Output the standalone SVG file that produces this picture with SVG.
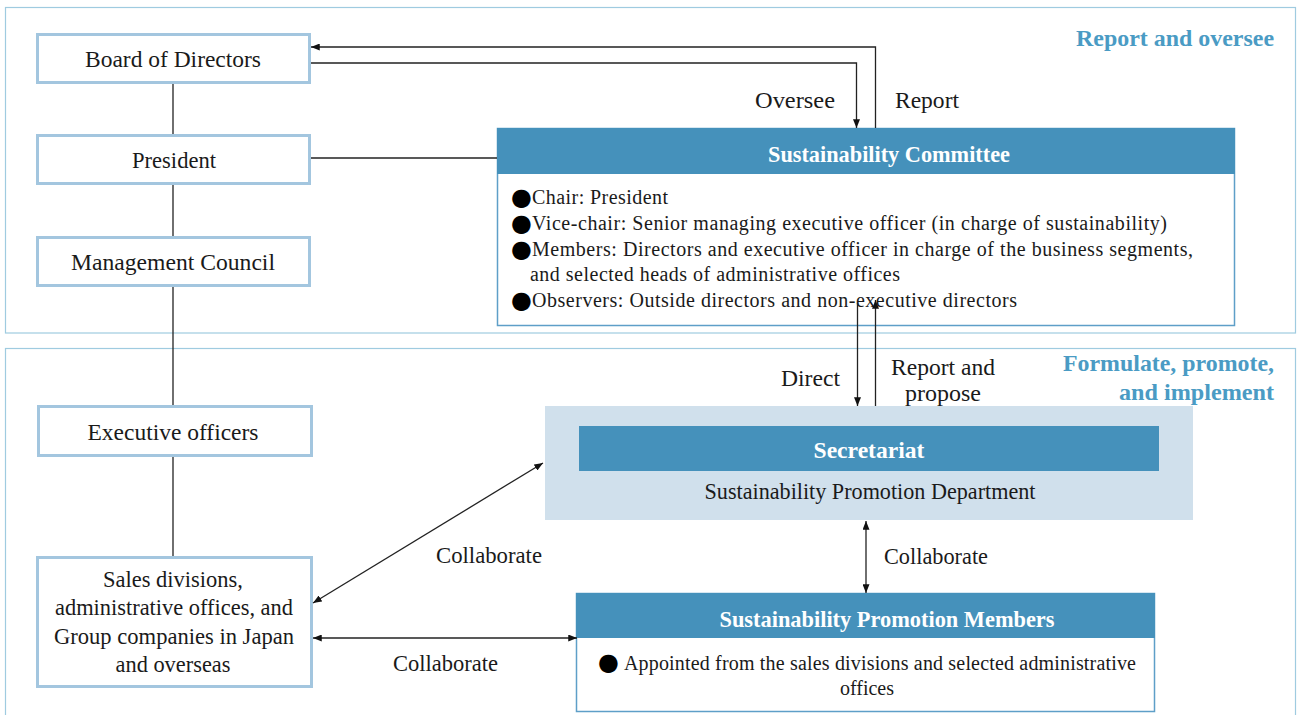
<svg xmlns="http://www.w3.org/2000/svg" width="1298" height="715" viewBox="0 0 1298 715">
<style>
  text { font-family: "Liberation Serif", "Times New Roman", serif; fill: #1a1a1a; }
  .lbl { font-size: 23.5px; text-anchor: middle; }
  .alb { font-size: 23.5px; }
  .lst { font-size: 20px; }
  .blt { font-family: "DejaVu Sans", sans-serif; font-size: 24px; fill: #000; }
  .hdr { font-size: 23px; font-weight: bold; fill: #ffffff; text-anchor: middle; }
  .sec { font-size: 24px; font-weight: bold; fill: #4a9bc4; text-anchor: end; }
  .panel { fill: none; stroke: #9fcbe0; stroke-width: 1.2; }
  .node { fill: #ffffff; stroke: #a3c6df; stroke-width: 3; }
  .hbar { fill: #4591bb; }
  .wbox { fill: #ffffff; stroke: #5e9fc8; stroke-width: 1.5; }
  .ln { fill: none; stroke: #222; stroke-width: 1.3; }
</style>
<defs>
  <marker id="ah" viewBox="0 0 10 8" refX="10" refY="4" markerWidth="9" markerHeight="7" markerUnits="userSpaceOnUse" orient="auto-start-reverse">
    <path d="M0,0 L10,4 L0,8 z" fill="#111"/>
  </marker>
</defs>

<g id="panels">
  <rect class="panel" x="5.5" y="7.5" width="1290" height="325.5"/>
  <rect class="panel" x="5.5" y="348.5" width="1290" height="400"/>
  <text class="sec" x="1274" y="46" textLength="198" lengthAdjust="spacingAndGlyphs">Report and oversee</text>
  <text class="sec" x="1274" y="371" textLength="211" lengthAdjust="spacingAndGlyphs">Formulate, promote,</text>
  <text class="sec" x="1274" y="400" textLength="155" lengthAdjust="spacingAndGlyphs">and implement</text>
</g>

<g id="board">
  <rect class="node" x="37.5" y="34.5" width="272" height="48"/>
  <text class="lbl" x="173" y="67" textLength="176" lengthAdjust="spacingAndGlyphs">Board of Directors</text>
</g>
<g id="president">
  <rect class="node" x="37.5" y="135.5" width="272" height="48"/>
  <text class="lbl" x="174" y="168" textLength="84" lengthAdjust="spacingAndGlyphs">President</text>
</g>
<g id="management-council">
  <rect class="node" x="37.5" y="237.5" width="272" height="48"/>
  <text class="lbl" x="173" y="270" textLength="204" lengthAdjust="spacingAndGlyphs">Management Council</text>
</g>
<g id="executive-officers">
  <rect class="node" x="38.5" y="406.5" width="273" height="49"/>
  <text class="lbl" x="173" y="440" textLength="171" lengthAdjust="spacingAndGlyphs">Executive officers</text>
</g>
<g id="sales-divisions">
  <rect class="node" x="37.5" y="557.5" width="274" height="129"/>
  <text class="lbl" x="173" y="587" textLength="140" lengthAdjust="spacingAndGlyphs">Sales divisions,</text>
  <text class="lbl" x="174" y="615" textLength="238" lengthAdjust="spacingAndGlyphs">administrative offices, and</text>
  <text class="lbl" x="174" y="644" textLength="240" lengthAdjust="spacingAndGlyphs">Group companies in Japan</text>
  <text class="lbl" x="173" y="672" textLength="115" lengthAdjust="spacingAndGlyphs">and overseas</text>
</g>

<g id="sustainability-committee">
  <rect class="wbox" x="497.5" y="128.5" width="737" height="197"/>
  <rect class="hbar" x="497" y="128" width="738" height="46"/>
  <text class="hdr" x="889" y="162" textLength="242" lengthAdjust="spacingAndGlyphs">Sustainability Committee</text>
  <text class="blt" x="511" y="205">●</text>
  <text class="lst" x="532" y="204" textLength="136">Chair: President</text>
  <text class="blt" x="511" y="231">●</text>
  <text class="lst" x="532" y="230" textLength="635">Vice-chair: Senior managing executive officer (in charge of sustainability)</text>
  <text class="blt" x="511" y="257">●</text>
  <text class="lst" x="532" y="256" textLength="661">Members: Directors and executive officer in charge of the business segments,</text>
  <text class="lst" x="530" y="281" textLength="370">and selected heads of administrative offices</text>
  <text class="blt" x="511" y="308">●</text>
  <text class="lst" x="532" y="307" textLength="485">Observers: Outside directors and non-executive directors</text>
</g>

<g id="secretariat">
  <rect x="545" y="406" width="648" height="114" fill="#d0e0ec"/>
  <rect class="hbar" x="579" y="426" width="580" height="45"/>
  <text class="hdr" x="869" y="458" textLength="111" lengthAdjust="spacingAndGlyphs">Secretariat</text>
  <text class="lbl" x="870" y="499" textLength="331" lengthAdjust="spacingAndGlyphs">Sustainability Promotion Department</text>
</g>

<g id="promotion-members">
  <rect class="wbox" x="576.5" y="593.5" width="578" height="118"/>
  <rect class="hbar" x="576" y="593" width="579" height="45"/>
  <text class="hdr" x="887" y="627" textLength="335" lengthAdjust="spacingAndGlyphs">Sustainability Promotion Members</text>
  <text class="blt" x="598" y="670">●</text>
  <text class="lst" x="624" y="670" textLength="512">Appointed from the sales divisions and selected administrative</text>
  <text class="lst" x="867" y="695" text-anchor="middle">offices</text>
</g>

<g id="connectors">
  <line class="ln" x1="173" y1="84" x2="173" y2="134"/>
  <line class="ln" x1="173" y1="185" x2="173" y2="236"/>
  <line class="ln" x1="173" y1="287" x2="173" y2="405"/>
  <line class="ln" x1="173" y1="457" x2="173" y2="556"/>
  <line class="ln" x1="311" y1="158" x2="497" y2="158"/>
  <polyline class="ln" points="875.5,128 875.5,47 311,47" marker-end="url(#ah)"/>
  <polyline class="ln" points="311,63 856.5,63 856.5,128" marker-end="url(#ah)"/>
  <line class="ln" x1="857.5" y1="303" x2="857.5" y2="406" marker-end="url(#ah)"/>
  <line class="ln" x1="875.5" y1="406" x2="875.5" y2="300" marker-end="url(#ah)"/>
  <line class="ln" x1="866" y1="521" x2="866" y2="593" marker-start="url(#ah)" marker-end="url(#ah)"/>
  <line class="ln" x1="313" y1="603" x2="543" y2="463" marker-start="url(#ah)" marker-end="url(#ah)"/>
  <line class="ln" x1="313" y1="638" x2="577" y2="638" marker-start="url(#ah)" marker-end="url(#ah)"/>
  <text class="alb" x="755" y="108" textLength="80" lengthAdjust="spacingAndGlyphs">Oversee</text>
  <text class="alb" x="895" y="108" textLength="64" lengthAdjust="spacingAndGlyphs">Report</text>
  <text class="alb" x="781" y="386" textLength="59" lengthAdjust="spacingAndGlyphs">Direct</text>
  <text class="alb" x="891" y="375" textLength="104" lengthAdjust="spacingAndGlyphs">Report and</text>
  <text class="alb" x="905" y="401" textLength="76" lengthAdjust="spacingAndGlyphs">propose</text>
  <text class="alb" x="436" y="563" textLength="106" lengthAdjust="spacingAndGlyphs">Collaborate</text>
  <text class="alb" x="393" y="671" textLength="105" lengthAdjust="spacingAndGlyphs">Collaborate</text>
  <text class="alb" x="884" y="564" textLength="104" lengthAdjust="spacingAndGlyphs">Collaborate</text>
</g>
</svg>
